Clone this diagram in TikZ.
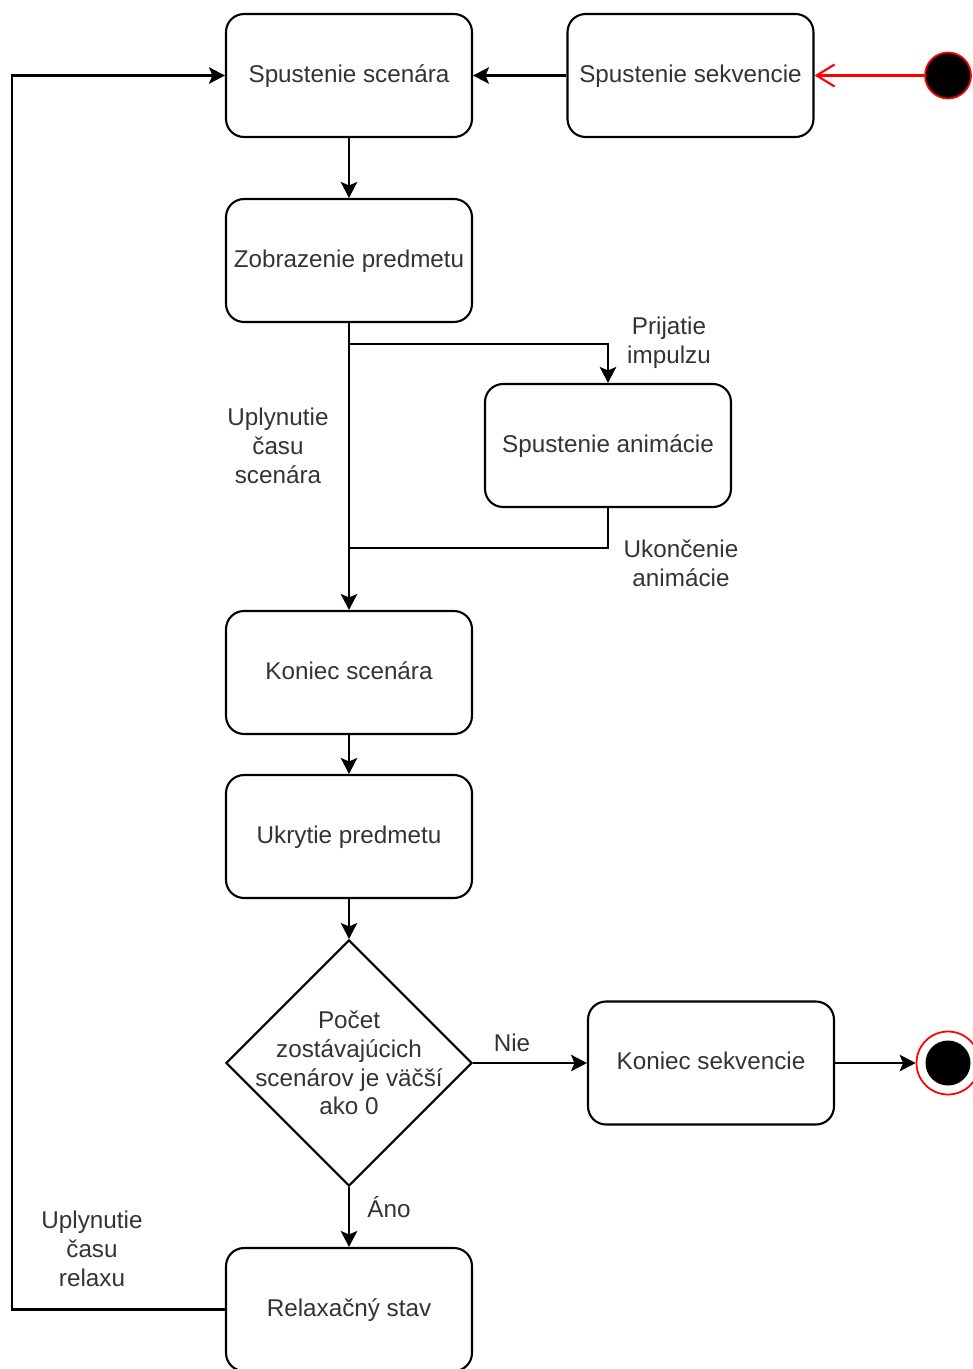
\documentclass[tikz,border=0pt]{standalone}
\usepackage{fontspec}
\setmainfont{Liberation Sans}
\usetikzlibrary{shapes.geometric,arrows.meta}

\begin{document}
\begin{tikzpicture}[x=0.02cm,y=-0.02cm,
  txtfont/.style={font=\fontsize{13.8}{16.4}\selectfont, text=black!80},
  state/.style={draw, line width=1.2pt, rounded corners=0.36cm,
    minimum width=4.92cm, minimum height=2.46cm, inner sep=0pt,
    text height=0.74em, text depth=0pt,
    align=center, txtfont},
  decision/.style={draw, line width=1.2pt, shape=diamond, aspect=1,
    minimum width=4.92cm, minimum height=4.92cm, inner sep=0pt},
  lbl/.style={align=center, txtfont, inner sep=0pt},
  flow/.style={draw, line width=1.2pt,
    -{Stealth[length=0.32cm, width=0.33cm, inset=0.07cm]}},
  plain/.style={draw, line width=1.2pt},
  startflow/.style={draw=red, line width=1.3pt,
    -{Straight Barb[length=0.36cm, width=0.44cm, line width=1.2pt]}},
]
\useasboundingbox (0,0) rectangle (973,1369);

% states
\node[state] (scen)   at (349,75.5)   {Spustenie scenára};
\node[state] (sekv)   at (690.5,75.5) {Spustenie sekvencie};
\node[state] (zobr)   at (349,260.5)  {Zobrazenie predmetu};
\node[state] (anim)   at (608,445.5)  {Spustenie animácie};
\node[state] (konsc)  at (349,672.5)  {Koniec scenára};
\node[state] (ukr)    at (349,836.5)  {Ukrytie predmetu};
\node[decision] (dec) at (349,1063) {};
\node[lbl] (dectext)  at (349,1063)
  {Počet\\zostávajúcich\\scenárov je väčší\\ako 0};
\node[state] (konsek) at (711,1063) {Koniec sekvencie};
\node[state] (relax)  at (349,1309.5) {Relaxačný stav};

% initial and final pseudo-states
\node[circle, fill=black, draw=red, line width=1pt,
  minimum size=0.92cm, inner sep=0pt] (init) at (948,75.5) {};
\node[circle, draw=red, line width=1pt,
  minimum size=1.26cm, inner sep=0pt] (final) at (948,1063) {};
\node[circle, fill=black, minimum size=0.9cm, inner sep=0pt]
  (finalcore) at (948,1063) {};

% transitions
\draw[startflow] (init) -- (sekv.east);
\draw[flow] (sekv.west) -- (scen.east);
\draw[flow] (scen) -- (zobr);
\draw[flow] (zobr) -- (konsc);

\coordinate (split) at (349,344);
\coordinate (join)  at (349,548);
\draw[flow] (split) -| (anim.north);
\draw[plain] (anim.south) |- (join);

\draw[flow] (konsc) -- (ukr);
\draw[flow] (ukr) -- (dec.north);
\draw[flow] (dec.south) -- (relax.north);
\draw[flow] (dec.east) -- (konsek.west);
\draw[flow] (konsek.east) -- (final.west);

\coordinate (loopbl) at (12,1309.5);
\draw[flow] (relax.west) -- (loopbl) |- (scen.west);

% transition labels
\node[lbl] (limp)  at (669,343)  {Prijatie\\impulzu};
\node[lbl] (lcas)  at (278,446)  {Uplynutie\\času\\scenára};
\node[lbl] (lukon) at (681,563)  {Ukončenie\\animácie};
\node[lbl] (lnie)  at (512,1043) {Nie};
\node[lbl] (lano)  at (389,1207) {Áno};
\node[lbl] (lrel)  at (92,1249)  {Uplynutie\\času\\relaxu};
\end{tikzpicture}
\end{document}
